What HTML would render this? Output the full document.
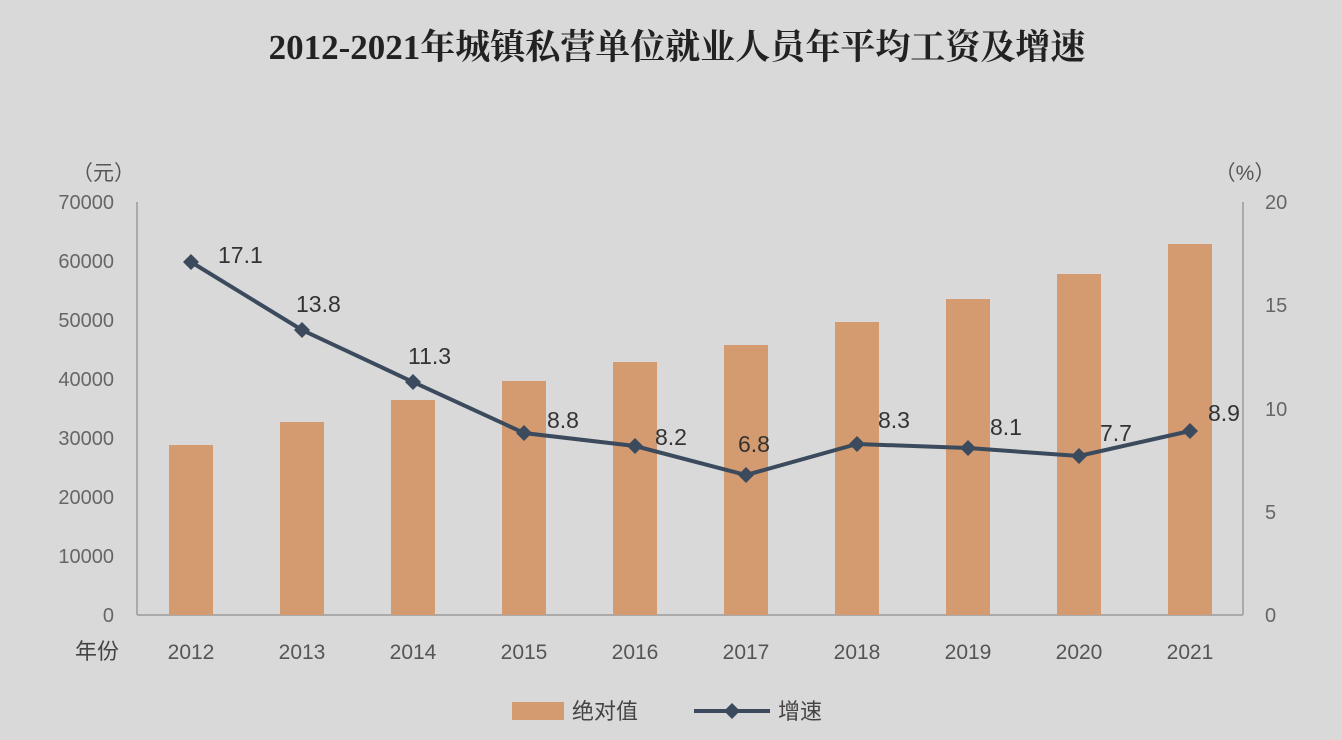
<!DOCTYPE html>
<html><head><meta charset="utf-8"><style>
body{margin:0;background:#d9d9d9;}
svg{display:block;font-family:"Liberation Sans","Noto Sans CJK SC",sans-serif;}
</style></head><body>
<svg width="1342" height="740" viewBox="0 0 1342 740">
<rect width="1342" height="740" fill="#d9d9d9"/>
<text x="677" y="59" font-size="35" font-weight="bold" text-anchor="middle" fill="#222" font-family="Liberation Serif,'Noto Serif CJK SC',serif">2012-2021年城镇私营单位就业人员年平均工资及增速</text>
<text x="135" y="180" font-size="21" text-anchor="end" fill="#555">（元）</text>
<text x="1245" y="180" font-size="21" text-anchor="middle" fill="#555">（%）</text>
<g font-size="20" fill="#666" text-anchor="end">
<text x="114" y="209">70000</text><text x="114" y="268">60000</text><text x="114" y="327">50000</text><text x="114" y="386">40000</text><text x="114" y="445">30000</text><text x="114" y="504">20000</text><text x="114" y="563">10000</text><text x="114" y="622">0</text>
</g>
<g font-size="20" fill="#666" text-anchor="start">
<text x="1265" y="209">20</text><text x="1265" y="312">15</text><text x="1265" y="416">10</text><text x="1265" y="519">5</text><text x="1265" y="622">0</text>
</g>
<line x1="137" y1="202" x2="137" y2="615" stroke="#aaa" stroke-width="2"/>
<line x1="1243" y1="202" x2="1243" y2="615" stroke="#aaa" stroke-width="2"/>
<line x1="137" y1="615" x2="1243" y2="615" stroke="#aaa" stroke-width="2"/>
<g fill="#d49a70">
<rect x="169" y="445" width="44" height="170"/>
<rect x="280" y="422" width="44" height="193"/>
<rect x="391" y="400" width="44" height="215"/>
<rect x="502" y="381" width="44" height="234"/>
<rect x="613" y="362" width="44" height="253"/>
<rect x="724" y="345" width="44" height="270"/>
<rect x="835" y="322" width="44" height="293"/>
<rect x="946" y="299" width="44" height="316"/>
<rect x="1057" y="274" width="44" height="341"/>
<rect x="1168" y="244" width="44" height="371"/>
</g>
<polyline fill="none" stroke="#3b4a5c" stroke-width="4" points="191,262 302,330 413,382 524,433 635,446 746,475 857,444 968,448 1079,456 1190,431"/>
<g fill="#3b4a5c">
<path d="M191,254 l8,8 l-8,8 l-8,-8z"/><path d="M302,322 l8,8 l-8,8 l-8,-8z"/><path d="M413,374 l8,8 l-8,8 l-8,-8z"/><path d="M524,425 l8,8 l-8,8 l-8,-8z"/><path d="M635,438 l8,8 l-8,8 l-8,-8z"/><path d="M746,467 l8,8 l-8,8 l-8,-8z"/><path d="M857,436 l8,8 l-8,8 l-8,-8z"/><path d="M968,440 l8,8 l-8,8 l-8,-8z"/><path d="M1079,448 l8,8 l-8,8 l-8,-8z"/><path d="M1190,423 l8,8 l-8,8 l-8,-8z"/>
</g>
<g font-size="23" fill="#333">
<text x="218" y="263">17.1</text><text x="296" y="312">13.8</text><text x="408" y="364">11.3</text><text x="547" y="428">8.8</text><text x="655" y="445">8.2</text><text x="738" y="452">6.8</text><text x="878" y="428">8.3</text><text x="990" y="435">8.1</text><text x="1100" y="441">7.7</text><text x="1208" y="421">8.9</text>
</g>
<g font-size="21" fill="#555" text-anchor="middle">
<text x="191" y="659">2012</text><text x="302" y="659">2013</text><text x="413" y="659">2014</text><text x="524" y="659">2015</text><text x="635" y="659">2016</text><text x="746" y="659">2017</text><text x="857" y="659">2018</text><text x="968" y="659">2019</text><text x="1079" y="659">2020</text><text x="1190" y="659">2021</text>
</g>
<text x="75" y="659" font-size="22" fill="#444">年份</text>
<rect x="512" y="702" width="52" height="18" fill="#d49a70"/>
<text x="572" y="719" font-size="22" fill="#444">绝对值</text>
<line x1="694" y1="711" x2="770" y2="711" stroke="#3b4a5c" stroke-width="4"/>
<path d="M732,703 l8,8 l-8,8 l-8,-8z" fill="#3b4a5c"/>
<text x="778" y="719" font-size="22" fill="#444">增速</text>
</svg>
</body></html>
